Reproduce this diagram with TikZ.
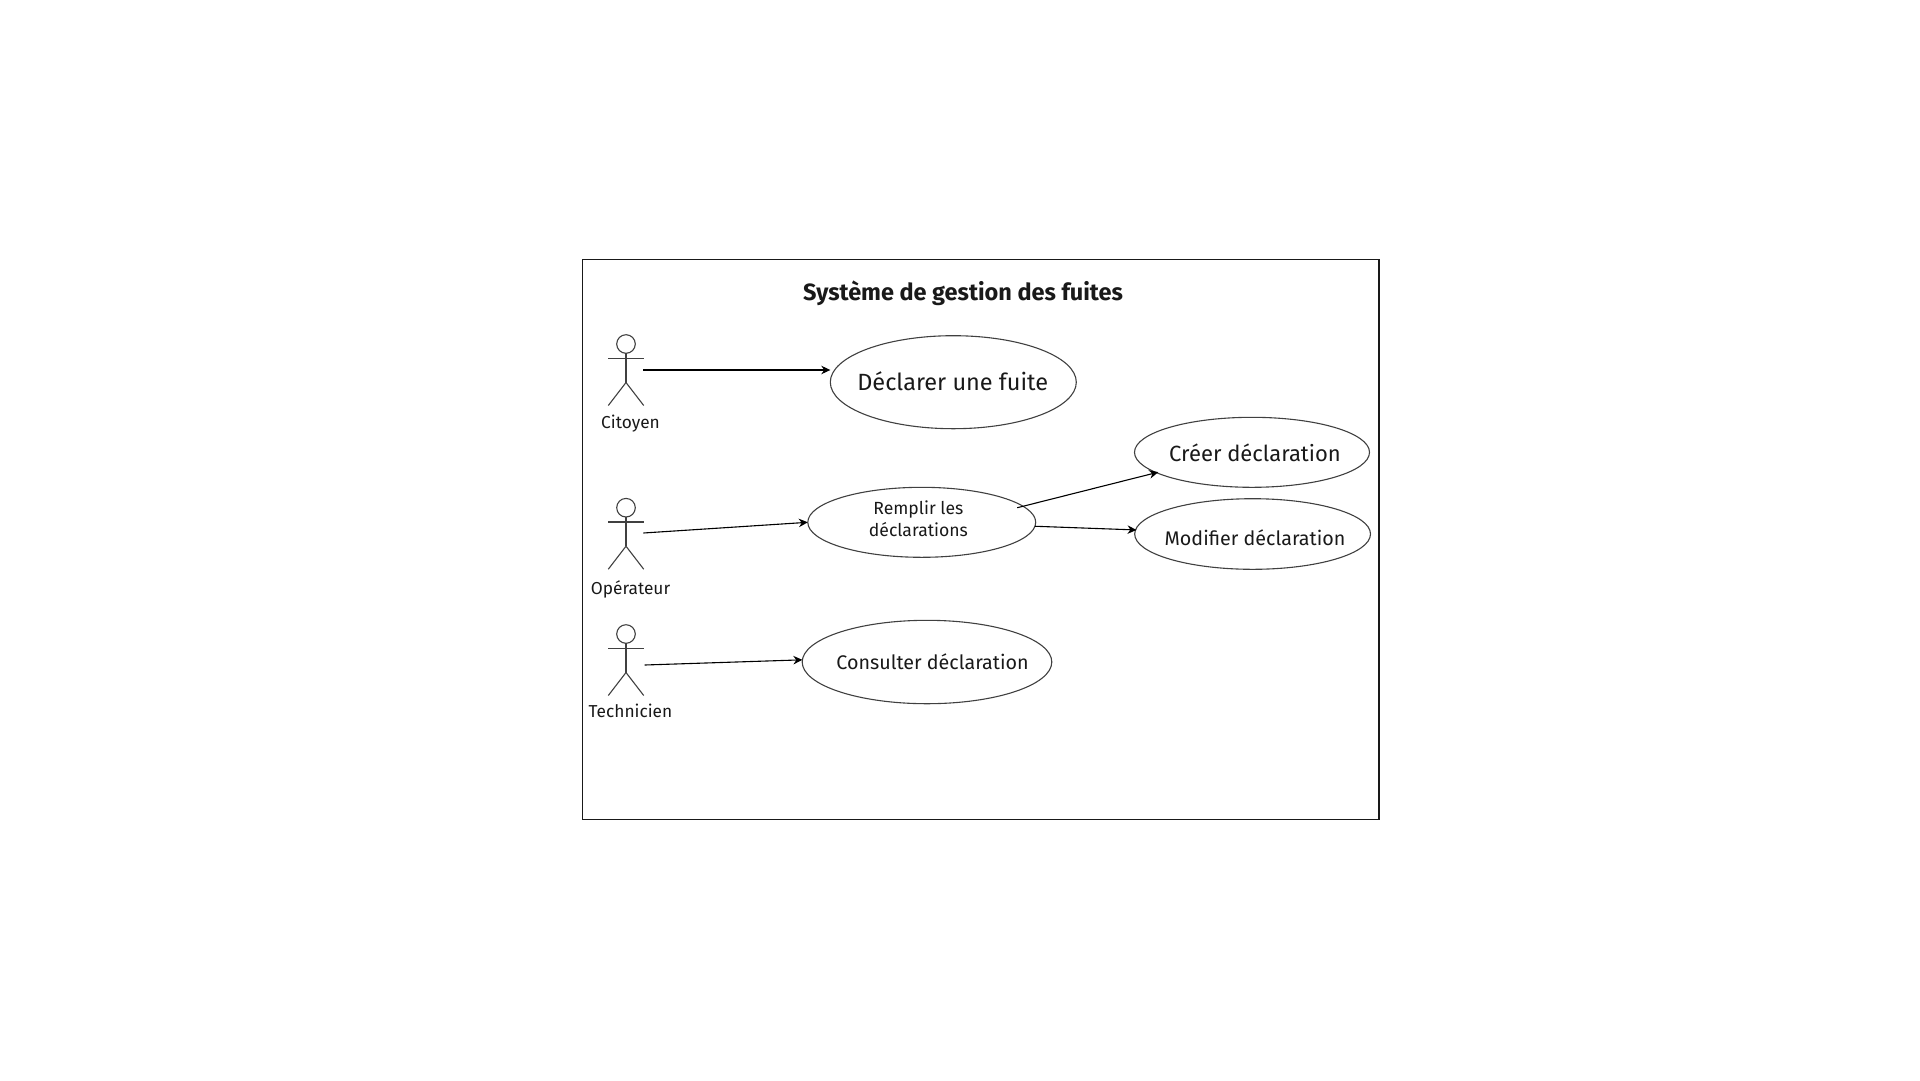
\documentclass[tikz,border=0pt]{standalone}
\usepackage{fontspec}
\setmainfont{Fira Sans}
\usetikzlibrary{arrows.meta,shapes.geometric}
\begin{document}
\begin{tikzpicture}[x=1pt,y=-1pt]
    \tikzstyle{every node}=[inner sep=0,outer sep=0,align=center,text=black!90]
    \tikzstyle{usecase}=[draw=black!75,ellipse,line width=1.1,fill=none]
    \tikzstyle{stick}=[draw=black!75,line width=1.1]
    \tikzstyle{link}=[draw=black,line width=1.1,-{Stealth[length=9,width=8.5]}]
    \tikzstyle{actorname}=[font=\fontsize{17.3}{20}\selectfont]
    \tikzstyle{usecasetext}=[font=\fontsize{19.7}{24}\selectfont]
    \useasboundingbox (0,0) rectangle (1920,1080);
    \draw[line width=1.3,draw=black!90] (582.5,259.7) rectangle (1379,819.3);
    \node[font=\fontsize{23.5}{28}\selectfont\bfseries] (title) at (963,293) {Système de gestion des fuites};
    % actors: name / y of head / y of arrow start / x of arrow start / y of text / text
    \foreach \who/\ypos/\yhand/\xhand/\ytext/\txt in {citoyen/344/370/643.3/423.5/Citoyen,operateur/507.7/533/643.3/589.5/Opérateur,technicien/634/665/644.7/711/Technicien} {
        \draw[stick] (626,\ypos) circle (9.3);
        \draw[stick] (626,\ypos+9.3) -- (626,\ypos+38.5);
        \draw[stick] (608.3,\ypos+14.3) -- (643.7,\ypos+14.3);
        \draw[stick] (608.3,\ypos+61.5) -- (626,\ypos+38.5) -- (643.7,\ypos+61.5);
        \coordinate (\who-hand) at (\xhand,\yhand);
        \node[actorname] (\who-name) at (630.5,\ytext) {\txt};
    }
    % use cases
    \node[usecase,minimum width=246,minimum height=93] (declarer) at (953.3,382.2) {};
    \node[usecase,minimum width=227.9,minimum height=70] (remplir) at (921.75,522.3) {};
    \node[usecase,minimum width=235,minimum height=70] (creer) at (1252,452.3) {};
    \node[usecase,minimum width=235.8,minimum height=70.6] (modifier) at (1252.6,534) {};
    \node[usecase,minimum width=249.6,minimum height=83.4] (consulter) at (927,662) {};
    \node[usecasetext,font=\fontsize{23.5}{28}\selectfont] (declarer-text) at (952.7,381) {Déclarer une fuite};
    \node[usecasetext,font=\fontsize{17.6}{21.7}\selectfont] (remplir-text) at (918.4,518.5) {Remplir les\\déclarations};
    \node[usecasetext,font=\fontsize{22}{26}\selectfont] (creer-text) at (1255,453.3) {Créer déclaration};
    \node[usecasetext] (modifier-text) at (1255,538) {Modifier déclaration};
    \node[usecasetext] (consulter-text) at (932.5,662) {Consulter déclaration};
    % arrows
    \draw[link] (citoyen-hand) -- (declarer.west |- citoyen-hand);
    \draw[link] (operateur-hand) -- (remplir.west);
    \draw[link] (technicien-hand) -- (consulter.179);
    \draw[link,shorten <=-6,shorten >=-2] (remplir.9.9) -- (creer.192.4);
    \draw[link,shorten >=-1] (remplir.-2.4) -- (modifier.178);
\end{tikzpicture}
\end{document}
